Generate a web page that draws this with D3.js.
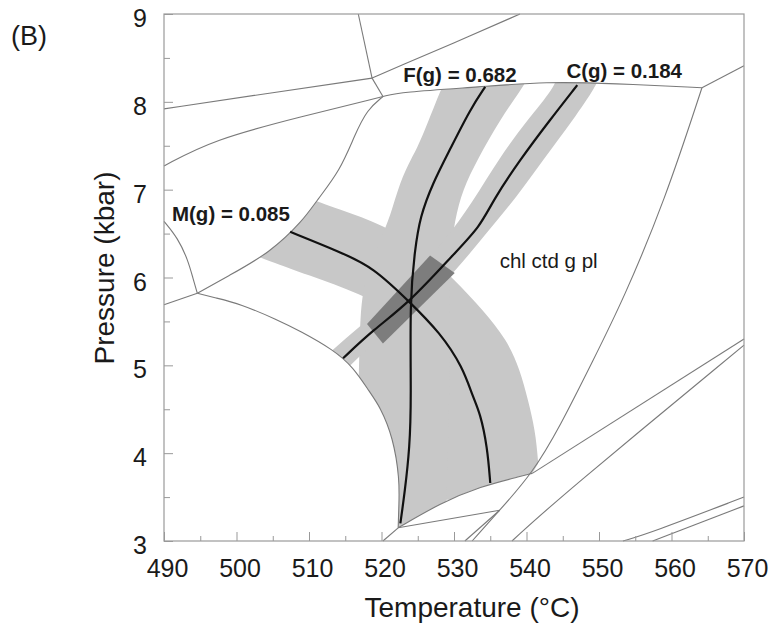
<!DOCTYPE html>
<html>
<head>
<meta charset="utf-8">
<script src="https://cdn.jsdelivr.net/npm/d3@7"></script>
<style>
  body { margin: 0; background: #fff; }
  svg text { font-family: "Liberation Sans", Arial, sans-serif; fill: #1a1a1a; }
</style>
</head>
<body>
<div id="chart"></div>
<script>
// axis ranges / ticks
const tempDomain = [490, 570];
const presDomain = [3, 9];
const tempTicks = [490, 500, 510, 520, 530, 540, 550, 560, 570];
const presTicks = [3, 4, 5, 6, 7, 8, 9];

// phase field boundaries, [T (°C), P (kbar)]
const bndA = [[516.8, 9.0], [518.7, 8.27]];
const bndB = [[490, 7.92], [504.6, 8.10], [518.7, 8.27]];
const bndC = [[518.7, 8.27], [520.2, 8.06]];
const bndD = [[518.7, 8.27], [522.6, 8.41], [529.4, 8.65], [539.1, 9.0]];
const bndE = [[490, 7.27], [496.8, 7.57], [508.8, 7.83], [520.2, 8.06]];
const bndTop = [[520.2, 8.06], [522.6, 8.11], [533.6, 8.17], [542.8, 8.23], [551.9, 8.21], [564.2, 8.16]];
const bndG = [[520.2, 8.06], [518.0, 7.91], [516.3, 7.62], [514.3, 7.22], [511.1, 6.88], [509.2, 6.65], [504.6, 6.28], [498.7, 6.01], [494.6, 5.82]];
const bndH = [[490, 6.64], [491.9, 6.45], [493.3, 6.20], [494.0, 5.99], [494.6, 5.82]];
const bndI = [[490, 5.69], [494.6, 5.82]];
const bndJ = [[494.6, 5.82], [497.0, 5.77], [500.5, 5.70], [505.6, 5.52], [508.8, 5.39], [513.3, 5.18], [516.1, 4.98], [518.4, 4.69], [519.8, 4.53], [521.6, 4.18], [522.5, 3.70], [522.4, 3.41], [522.3, 3.15]];
const bndJ2 = [[522.3, 3.15], [520.2, 3.0]];
const bndK = [[522.3, 3.15], [528.1, 3.43], [533.6, 3.62], [539.4, 3.74], [540.8, 3.77]];
const bndL = [[540.8, 3.77], [570, 5.30]];
const bndMs = [[522.3, 3.15], [536.3, 3.35]];
const bndN = [[532.5, 3.0], [536.3, 3.35], [540.8, 3.77], [544.6, 4.30], [549.2, 5.06], [553.3, 5.74], [559.1, 6.88], [564.2, 8.16]];
const bndO = [[531.5, 3.0], [536.3, 3.35]];
const bndP = [[538.0, 3.0], [544.6, 3.50], [570, 5.23]];
const bndQ = [[553.3, 3.0], [557.0, 3.09], [570, 3.50]];
const bndR = [[557.4, 3.0], [570, 3.40]];
const bndS = [[564.2, 8.16], [570, 8.41]];

// garnet isopleths
const isoM = [[507.4, 6.52], [514.3, 6.29], [518.8, 6.12], [523.9, 5.72], [528.1, 5.37], [531.2, 4.98], [532.6, 4.64], [533.6, 4.46], [534.6, 4.07], [535.0, 3.66]];
const isoF = [[534.3, 8.17], [532.2, 7.91], [529.4, 7.45], [527.1, 7.08], [525.3, 6.69], [524.6, 6.31], [523.9, 5.74], [524.1, 4.61], [523.9, 4.07], [523.2, 3.55], [522.6, 3.2]];
const isoC = [[547.0, 8.19], [543.2, 7.79], [539.1, 7.34], [535.4, 6.88], [533.6, 6.58], [530.1, 6.28], [523.9, 5.72], [518.8, 5.40], [514.7, 5.08]];
const isoLabels = ["M(g) = 0.085", "F(g) = 0.682", "C(g) = 0.184"];

// uncertainty envelopes
const bandMUpper = [[508.8, 6.94], [514.3, 6.77], [520.2, 6.60], [525.3, 6.35], [530.1, 5.97], [534.0, 5.63], [537.3, 5.29], [539.1, 4.95], [540.2, 4.61], [541.2, 4.26], [541.6, 3.92], [542.0, 3.47]];
const bandMLower = [[500.5, 6.31], [503.2, 6.23], [510.1, 6.02], [517.0, 5.82], [522.5, 5.57], [525.3, 5.23], [527.0, 4.72], [528.1, 4.15], [528.8, 3.47]];
const bandFLeft = [[529.2, 8.31], [528.3, 8.17], [525.3, 7.53], [524.2, 7.37], [522.5, 7.08], [521.2, 6.69], [519.8, 6.43], [518.4, 6.14], [517.3, 5.82], [517.0, 5.40], [516.8, 4.61], [516.5, 2.95]];
const bandFRight = [[540.5, 8.31], [539.5, 8.17], [536.3, 7.79], [533.2, 7.34], [531.2, 7.00], [530.1, 6.66], [529.4, 6.20], [529.4, 5.74], [529.4, 4.61], [528.8, 2.95]];
const bandCLeft = [[544.3, 8.31], [543.9, 8.17], [540.1, 7.79], [536.3, 7.37], [532.5, 6.85], [528.8, 6.43], [524.6, 6.03], [520.5, 5.69], [517.0, 5.44], [513.3, 5.18], [509.4, 4.89]];
const bandCRight = [[550.1, 8.31], [549.7, 8.19], [546.4, 7.79], [542.3, 7.34], [538.7, 6.92], [534.5, 6.51], [530.1, 6.06], [526.7, 5.80], [522.5, 5.52], [519.1, 5.27], [515.7, 5.00], [512.2, 4.72]];
const overlapBox = [[526.7, 6.25], [530.1, 6.05], [520.2, 5.25], [518.0, 5.47]];

const fieldName = "chl ctd g pl";

const margin = { top: 14, right: 28, bottom: 89, left: 164 };
const width = 772 - margin.left - margin.right,
    height = 630 - margin.top - margin.bottom;

const root = d3.select("#chart").append("svg")
    .attr("width", 772)
    .attr("height", 630);

const svg = root.append("g")
    .attr("transform", "translate(" + margin.left + "," + margin.top + ")");

const xScale = d3.scaleLinear().domain(tempDomain).range([0, width]);
const yScale = d3.scaleLinear().domain(presDomain).range([height, 0]);

const smooth = d3.line()
    .x(d => xScale(d[0]))
    .y(d => yScale(d[1]))
    .curve(d3.curveBasis);
const straight = d3.line()
    .x(d => xScale(d[0]))
    .y(d => yScale(d[1]));

// join pieces into one outline, continuing instead of moving
function outline(pieces, gen) {
    return pieces.map((p, i) => {
        const s = gen(p);
        return i === 0 ? s : s.replace(/^M/, "L");
    }).join("") + "Z";
}

// clip = the chl ctd g pl field
const field = outline([
    bndG.slice().reverse(),
    bndTop,
    bndN.slice(2).reverse(),
    bndK.slice().reverse(),
    bndJ.slice().reverse()
], smooth);

root.append("defs").append("clipPath")
    .attr("id", "field")
    .append("path")
    .attr("d", field);

const bands = svg.append("g").attr("clip-path", "url(#field)");

[[bandMUpper, bandMLower], [bandFLeft, bandFRight], [bandCLeft, bandCRight]].forEach(b => {
    bands.append("path")
        .attr("d", outline([b[0], b[1].slice().reverse()], smooth))
        .attr("fill", "#c8c8c8");
});

bands.append("path")
    .attr("d", straight(overlapBox) + "Z")
    .attr("fill", "#7d7d7d");

// field boundaries
const boundaries = [bndA, bndB, bndC, bndD, bndE, bndTop, bndG, bndH, bndI, bndJ, bndJ2,
    bndK, bndL, bndMs, bndN, bndO, bndP, bndQ, bndR, bndS];

svg.append("g")
    .selectAll("path")
    .data(boundaries)
    .join("path")
    .attr("d", smooth)
    .attr("fill", "none")
    .attr("stroke", "#7a7a7a")
    .attr("stroke-width", 1.1);

svg.append("g")
    .selectAll("path")
    .data([isoM, isoF, isoC])
    .join("path")
    .attr("d", smooth)
    .attr("fill", "none")
    .attr("stroke", "#111")
    .attr("stroke-width", 2.2);

// axes
const minorX = d3.range(490, 571, 5).filter(v => v % 10 !== 0);
const minorY = d3.range(3.5, 9, 1);

svg.append("g")
    .attr("class", "axis x-axis")
    .attr("transform", `translate(0, ${height})`)
    .call(d3.axisBottom(xScale).tickValues(tempTicks).tickSize(-9).tickPadding(18).tickFormat(d3.format("d")));

svg.append("g")
    .attr("transform", `translate(0, ${height})`)
    .call(d3.axisBottom(xScale).tickValues(minorX).tickSize(-5).tickFormat(""));

svg.append("g")
    .attr("class", "axis y-axis")
    .call(d3.axisLeft(yScale).tickValues(presTicks).tickSize(-9).tickPadding(17).tickFormat(d3.format("d")));

svg.append("g")
    .call(d3.axisLeft(yScale).tickValues(minorY).tickSize(-6).tickFormat(""));

svg.selectAll(".domain").remove();
svg.selectAll(".tick line").attr("stroke", "#999");
svg.selectAll(".tick text").attr("font-size", 25).attr("fill", "#1a1a1a");
svg.selectAll(".x-axis .tick text").attr("dx", 3);
svg.selectAll(".y-axis .tick text").attr("dy", "0.5em");

svg.append("rect")
    .attr("width", width)
    .attr("height", height)
    .attr("fill", "none")
    .attr("stroke", "#9a9a9a")
    .attr("stroke-width", 1.2);

// labels
const labelAt = [[491.1, 6.643], [523.0, 8.226], [545.5, 8.272]];
svg.append("g")
    .selectAll("text")
    .data(isoLabels)
    .join("text")
    .attr("x", (d, i) => xScale(labelAt[i][0]))
    .attr("y", (d, i) => yScale(labelAt[i][1]))
    .attr("font-size", 20.5)
    .attr("font-weight", "bold")
    .text(d => d);

svg.append("text")
    .attr("x", xScale(536.3))
    .attr("y", yScale(6.108))
    .attr("font-size", 20.5)
    .text(fieldName);

root.append("text")
    .attr("x", 472)
    .attr("y", 617)
    .attr("text-anchor", "middle")
    .attr("font-size", 28)
    .text("Temperature (°C)");

root.append("text")
    .attr("transform", "translate(114, 268) rotate(-90)")
    .attr("text-anchor", "middle")
    .attr("font-size", 28)
    .text("Pressure (kbar)");

root.append("text")
    .attr("x", 11)
    .attr("y", 45)
    .attr("font-size", 27)
    .text("(B)");
</script>
</body>
</html>
